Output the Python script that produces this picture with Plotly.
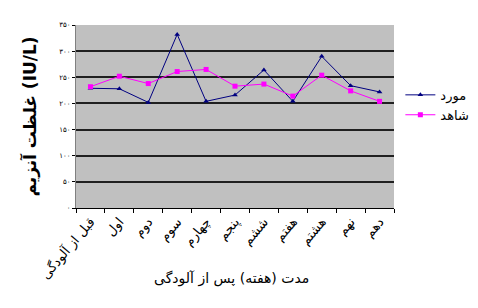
import plotly.graph_objects as go

categories = ["قبل از آلودگی", "اول", "دوم", "سوم", "چهارم", "پنجم",
              "ششم", "هفتم", "هشتم", "نهم", "دهم"]
case_vals = [229, 228, 202, 332, 204, 216, 264, 204, 290, 234, 222]
control_vals = [232, 252, 238, 261, 265, 233, 237, 214, 254, 224, 204]
ytick_vals = [0, 50, 100, 150, 200, 250, 300, 350]
ytick_text = ["۰", "۵۰", "۱۰۰", "۱۵۰", "۲۰۰", "۲۵۰", "۳۰۰", "۳۵۰"]

FONT = "DejaVu Sans"

fig = go.Figure()
fig.add_trace(go.Scatter(
    x=categories, y=case_vals, name="مورد", mode="lines+markers",
    line=dict(color="#000080", width=1),
    marker=dict(symbol="triangle-up", size=5, color="#000080")))
fig.add_trace(go.Scatter(
    x=categories, y=control_vals, name="شاهد", mode="lines+markers",
    line=dict(color="#ff00ff", width=1),
    marker=dict(symbol="square", size=5, color="#ff00ff")))

fig.update_layout(
    width=478, height=308,
    margin=dict(l=68, r=77, t=17, b=108),
    paper_bgcolor="white", plot_bgcolor="#c0c0c0",
    font=dict(family=FONT, color="black"),
    showlegend=True,
    legend=dict(x=1.02, y=0.7, xanchor="left", yanchor="top",
                font=dict(size=13, family=FONT), bgcolor="rgba(0,0,0,0)",
                itemwidth=30, tracegroupgap=9),
    xaxis=dict(type="category", showgrid=False, tickson="boundaries",
               ticks="outside", ticklen=4, tickcolor="black",
               showline=True, linecolor="black", linewidth=1,
               tickangle=-50, tickfont=dict(size=13, family=FONT),
               range=[-0.5, 10.5]),
    yaxis=dict(range=[0, 350], tickvals=ytick_vals, ticktext=ytick_text,
               showgrid=True, gridcolor="#202020", gridwidth=1.5,
               ticks="outside", ticklen=3, tickcolor="black",
               showline=True, linecolor="#808080", linewidth=1,
               tickfont=dict(size=7, family=FONT),
               zeroline=False,
               title=dict(text="<b>غلظت آنزیم (IU/L)</b>",
                          font=dict(size=17, family=FONT), standoff=18)),
    annotations=[dict(text="مدت (هفته) پس از آلودگی", xref="paper", yref="paper",
                      x=0.49, y=-0.385, xanchor="center", yanchor="middle",
                      showarrow=False, font=dict(size=14, family=FONT))],
)

fig.write_html("out.html")
